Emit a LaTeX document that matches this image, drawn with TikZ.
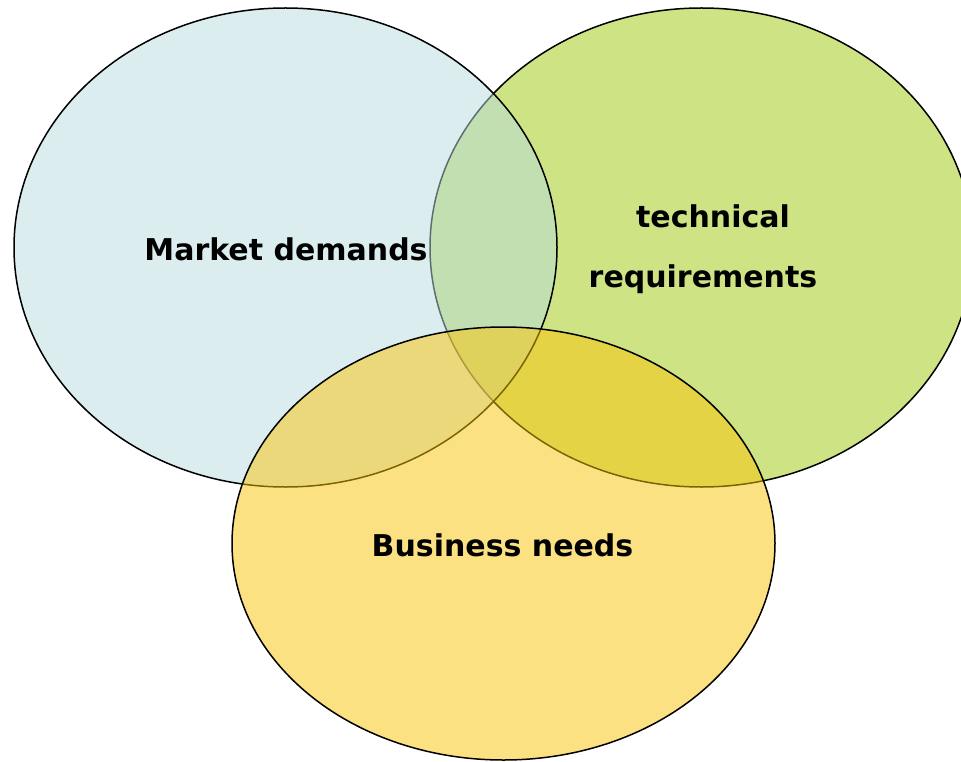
\documentclass[tikz,border=0pt]{standalone}
\usepackage{fontspec}
\setmainfont{DejaVu Sans}
\definecolor{mkblue}{RGB}{185,221,225}
\definecolor{tcgreen}{RGB}{205,227,132}
\definecolor{bsgold}{RGB}{251,197,7}
\tikzset{
  venn/.style={draw=black, line width=1.5pt},
  lbl/.style={font=\bfseries\fontsize{30}{36}\selectfont, text=black, inner sep=0pt, anchor=base}
}
\begin{document}
\begin{tikzpicture}[x=1pt,y=-1pt]
\useasboundingbox (0,0) rectangle (961,762);
\fill[white] (0,0) rectangle (961,762);
% technical requirements (opaque)
\path[venn, fill=tcgreen] (701.5,247.5) ellipse [x radius=271.5pt, y radius=239.5pt];
% market demands (semi-transparent)
\path[venn, fill=mkblue, fill opacity=0.5] (285.5,247.5) ellipse [x radius=271.5pt, y radius=239.5pt];
% business needs (semi-transparent)
\path[venn, fill=bsgold, fill opacity=0.5] (503.5,543.5) ellipse [x radius=271.5pt, y radius=216.5pt];
\node[lbl] (market) at (286,260) {Market demands};
\node[lbl] (tech1) at (713,227) {technical};
\node[lbl] (tech2) at (703,287) {requirements};
\node[lbl] (business) at (502.5,556) {Business needs};
\end{tikzpicture}
\end{document}
